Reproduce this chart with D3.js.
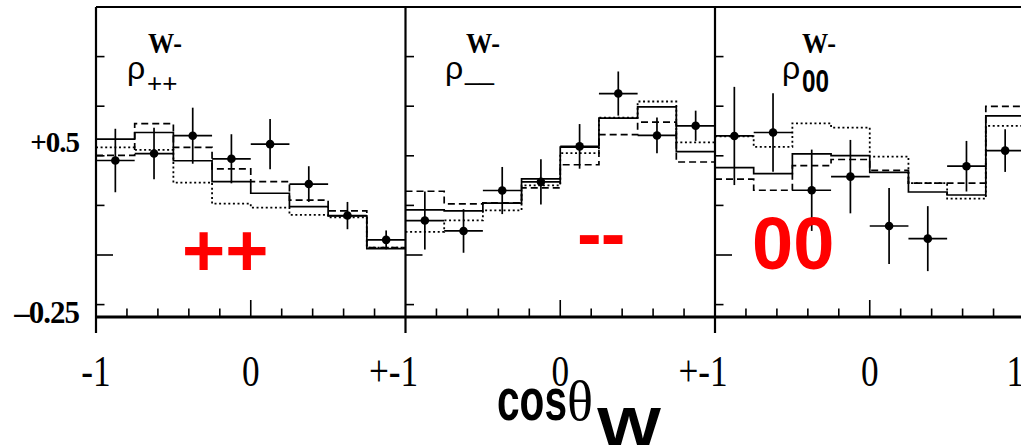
<!DOCTYPE html>
<html>
<head>
<meta charset="utf-8">
<script src="https://cdn.jsdelivr.net/npm/d3@7"></script>
<style>
  html, body { margin: 0; padding: 0; background: #fff; }
  svg { display: block; }
</style>
</head>
<body>
<svg id="chart" width="1021" height="445"></svg>
<script>
// Binning in cos(theta_W): 8 equal bins over [-1, 1]
const binEdges = [-1, -0.75, -0.5, -0.25, 0, 0.25, 0.5, 0.75, 1];
const binCenters = [-0.875, -0.625, -0.375, -0.125, 0.125, 0.375, 0.625, 0.875];

// rho_{++}
const ppData   = [0.381, 0.409, 0.481, 0.388, 0.447, 0.286, 0.159, 0.061];
const ppErr    = [0.128, 0.104, 0.113, 0.099, 0.101, 0.072, 0.055, 0.038];
const ppSolid  = [0.467, 0.494, 0.380, 0.296, 0.249, 0.195, 0.158, 0.026];
const ppDashed = [0.402, 0.530, 0.434, 0.347, 0.296, 0.221, 0.178, 0.030];
const ppDotted = [0.434, 0.424, 0.292, 0.207, 0.191, 0.162, 0.152, 0.030];

// rho_{--}
const mmData   = [0.139, 0.097, 0.260, 0.295, 0.438, 0.651, 0.482, 0.521];
const mmErr    = [0.117, 0.088, 0.095, 0.091, 0.090, 0.089, 0.072, 0.061];
const mmSolid  = [0.182, 0.178, 0.209, 0.307, 0.435, 0.552, 0.597, 0.417];
const mmDashed = [0.257, 0.206, 0.210, 0.271, 0.364, 0.485, 0.536, 0.375];
const mmDotted = [0.093, 0.140, 0.180, 0.281, 0.411, 0.554, 0.619, 0.454];

// rho_{00}
const zzData   = [0.480, 0.494, 0.261, 0.316, 0.117, 0.066, 0.358, 0.421];
const zzErr    = [0.198, 0.158, 0.164, 0.148, 0.153, 0.131, 0.102, 0.086];
const zzSolid  = [0.352, 0.328, 0.408, 0.401, 0.333, 0.254, 0.242, 0.561];
const zzDashed = [0.306, 0.261, 0.360, 0.385, 0.341, 0.290, 0.290, 0.599];
const zzDotted = [0.478, 0.436, 0.531, 0.514, 0.397, 0.290, 0.227, 0.521];

// Axis ticks and labels
const yTicks = [-0.2, 0, 0.2, 0.4, 0.6, 0.8];
const yMajorTicks = [0];
const xTicks = [-0.8, -0.6, -0.4, -0.2, 0, 0.2, 0.4, 0.6, 0.8];
const xMajorTicks = [0];
const yLabelText = ["+0.5", "\u20130.25"];
const yLabelPos = [0.457, -0.232];
const xLabelText = [["-1", "0"], ["+-1", "0"], ["+-1", "0", "1"]];
const xLabelPos = [[-1, 0], [-1, 0], [-1, 0, 0.94]];

const panelSub = ["++", "__", "00"];
const panelBig = ["++", "--", "00"];

const panels = [
  { data: ppData, err: ppErr, solid: ppSolid, dashed: ppDashed, dotted: ppDotted },
  { data: mmData, err: mmErr, solid: mmSolid, dashed: mmDashed, dotted: mmDotted },
  { data: zzData, err: zzErr, solid: zzSolid, dashed: zzDashed, dotted: zzDotted }
];

const svg = d3.select("#chart");
svg.append("rect").attr("width", 1021).attr("height", 445).attr("fill", "#fff");

const panelLeft = [96, 405.5, 715];
const panelWidth = 309.5;
const frameTop = 7, frameBottom = 317;

const y = d3.scaleLinear().domain([-0.25, 1.0]).range([frameBottom, frameTop]);

const SERIF = "'Liberation Serif', 'Times New Roman', serif";
const SANS = "'Liberation Sans', Arial, Helvetica, sans-serif";

panels.forEach((p, k) => {
  const x0 = panelLeft[k];
  const x = d3.scaleLinear().domain([-1, 1]).range([x0, x0 + panelWidth]);
  const g = svg.append("g");

  // histograms (step lines through bin edges)
  const stepLine = d3.line().x(d => x(d[0])).y(d => y(d[1])).curve(d3.curveStepAfter);
  const stepPts = vals => vals.map((v, i) => [binEdges[i], v]).concat([[binEdges[8], vals[7]]]);
  const styles = [
    { vals: p.dotted, dash: "2,2.6", w: 1.8 },
    { vals: p.dashed, dash: "7,4", w: 1.7 },
    { vals: p.solid, dash: null, w: 1.7 }
  ];
  styles.forEach(s => {
    g.append("path")
      .attr("d", stepLine(stepPts(s.vals)))
      .attr("fill", "none")
      .attr("stroke", "#000")
      .attr("stroke-width", s.w)
      .attr("stroke-dasharray", s.dash);
  });

  // data points with error bars
  const pts = p.data.map((v, i) => ({ c: binCenters[i], v, e: p.err[i], lo: binEdges[i], hi: binEdges[i + 1] }));
  g.selectAll(".ev").data(pts).join("line")
    .attr("x1", d => x(d.c)).attr("x2", d => x(d.c))
    .attr("y1", d => y(d.v - d.e)).attr("y2", d => y(d.v + d.e))
    .attr("stroke", "#000").attr("stroke-width", 1.7);
  g.selectAll(".eh").data(pts).join("line")
    .attr("x1", d => x(d.lo)).attr("x2", d => x(d.hi))
    .attr("y1", d => y(d.v)).attr("y2", d => y(d.v))
    .attr("stroke", "#000").attr("stroke-width", 1.7);
  g.selectAll(".pt").data(pts).join("circle")
    .attr("cx", d => x(d.c)).attr("cy", d => y(d.v)).attr("r", 4.3)
    .attr("fill", "#000");

  // left axis ticks (pointing inward)
  g.selectAll(".yt").data(yTicks).join("line")
    .attr("x1", x0).attr("x2", d => x0 + (yMajorTicks.includes(d) ? 17 : 8.5))
    .attr("y1", d => y(d)).attr("y2", d => y(d))
    .attr("stroke", "#000").attr("stroke-width", 1.6);

  // bottom axis ticks (pointing up)
  g.selectAll(".xt").data(xTicks).join("line")
    .attr("x1", d => x(d)).attr("x2", d => x(d))
    .attr("y1", frameBottom).attr("y2", d => frameBottom - (xMajorTicks.includes(d) ? 17 : 8.5))
    .attr("stroke", "#000").attr("stroke-width", 1.6);

  // frame: left edge extends below the axis
  g.append("line").attr("x1", x0).attr("x2", x0).attr("y1", frameTop).attr("y2", 333)
    .attr("stroke", "#000").attr("stroke-width", 2.2);

  // x tick labels (condensed serif)
  xLabelText[k].forEach((t, i) => {
    const pos = xLabelPos[k][i];
    const shift = t === "+-1" ? -12 : 0;
    g.append("text")
      .attr("transform", `translate(${x(pos) + shift},386) scale(0.8,1)`)
      .attr("text-anchor", "middle")
      .attr("font-family", SERIF).attr("font-size", 44)
      .text(t);
  });

  // panel title: rho with W- superscript
  const tx = [127, 445, 782][k];
  g.append("text").attr("x", [148, 466, 802][k]).attr("y", 53)
    .attr("font-family", SERIF).attr("font-weight", "bold").attr("font-size", 29)
    .attr("textLength", 34).attr("lengthAdjust", "spacingAndGlyphs")
    .text("W-");
  g.append("text").attr("x", tx).attr("y", 79)
    .attr("font-family", SANS).attr("font-size", 32)
    .text("\u03c1");
  const sub = g.append("text").attr("x", tx + 20).attr("y", k === 1 ? 80 : 92)
    .attr("font-family", SANS).attr("font-size", 26)
    .attr("font-weight", k === 2 ? "bold" : "normal")
    .text(panelSub[k]);
  if (k === 2) sub.attr("font-size", 32).attr("textLength", 27).attr("lengthAdjust", "spacingAndGlyphs");

  // large red label
  const big = [
    { x: 182, y: 276 },
    { x: 577, y: 259 },
    { x: 752, y: 269 }
  ][k];
  g.append("text").attr("x", big.x).attr("y", big.y)
    .attr("font-family", SANS).attr("font-weight", "bold").attr("font-size", 74)
    .attr("fill", "#ff0000")
    .attr("letter-spacing", k === 1 ? -1 : 0)
    .text(panelBig[k]);
});

// top frame and x axis line
svg.append("line").attr("x1", panelLeft[0]).attr("x2", 1021).attr("y1", frameTop).attr("y2", frameTop)
  .attr("stroke", "#000").attr("stroke-width", 2.2);
svg.append("line").attr("x1", panelLeft[0]).attr("x2", 1021).attr("y1", frameBottom).attr("y2", frameBottom)
  .attr("stroke", "#000").attr("stroke-width", 2.8);

// y tick labels
yLabelText.forEach((t, i) => {
  svg.append("text")
    .attr("x", 79).attr("y", y(yLabelPos[i]) + 10)
    .attr("text-anchor", "end")
    .attr("font-family", SERIF).attr("font-weight", "bold").attr("font-size", i === 0 ? 29 : 31)
    .attr("letter-spacing", -1)
    .text(t);
});

// x axis title: cos theta_W
const title = svg.append("g");
title.append("text").attr("x", 497).attr("y", 420)
  .attr("font-family", SANS).attr("font-weight", "bold").attr("font-size", 60)
  .attr("textLength", 70).attr("lengthAdjust", "spacingAndGlyphs")
  .text("cos");
title.append("text").attr("x", 567).attr("y", 420)
  .attr("font-family", SERIF).attr("font-size", 56)
  .attr("textLength", 26).attr("lengthAdjust", "spacingAndGlyphs")
  .text("\u03b8");
title.append("text").attr("x", 597).attr("y", 446)
  .attr("font-family", SANS).attr("font-weight", "bold").attr("font-size", 56)
  .attr("textLength", 64).attr("lengthAdjust", "spacingAndGlyphs")
  .text("W");
</script>
</body>
</html>
